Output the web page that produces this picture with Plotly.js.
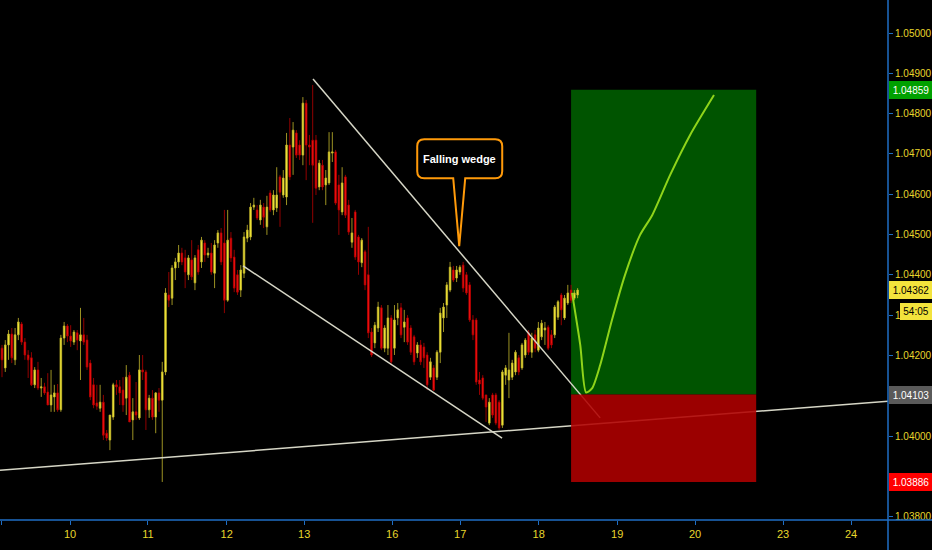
<!DOCTYPE html>
<html><head><meta charset="utf-8">
<script src="https://cdn.plot.ly/plotly-3.0.1.min.js"></script>
<style>html,body{margin:0;padding:0;background:#000;}#chart{width:932px;height:550px;}</style>
</head><body><div id="chart"></div>
<script>
// Hourly candles (EURUSD-style)
const candleOpen = [
1.04218,1.04169,1.04226,1.04253,1.04189,1.04251,1.04278,1.04233,1.04201,1.04194,
1.04127,1.04164,1.04119,1.04122,1.04109,1.04077,1.04097,1.04107,1.04065,1.04243,
1.04273,1.04248,1.04233,1.04256,1.04236,1.04251,1.04238,1.04181,1.04127,1.04082,
1.04069,1.04084,1.04007,1.03990,1.04047,1.04127,1.04122,1.04114,1.04094,1.04151,
1.04040,1.04060,1.04045,1.04164,1.04159,1.04065,1.04094,1.04047,1.04107,1.04089,
1.04159,1.04350,1.04342,1.04417,1.04432,1.04454,1.04442,1.04400,1.04437,1.04380,
1.04462,1.04432,1.04479,1.04449,1.04454,1.04404,1.04479,1.04504,1.04479,1.04337,
1.04491,1.04444,1.04400,1.04362,1.04404,1.04491,1.04494,1.04568,1.04561,1.04536,
1.04568,1.04519,1.04603,1.04561,1.04566,1.04643,1.04598,1.04593,1.04722,1.04717,
1.04752,1.04722,1.04697,1.04826,1.04722,1.04734,1.04734,1.04618,1.04672,1.04623,
1.04628,1.04702,1.04705,1.04623,1.04556,1.04643,1.04573,1.04481,1.04556,1.04494,
1.04430,1.04457,1.04400,1.04258,1.04231,1.04268,1.04318,1.04218,1.04218,1.04293,
1.04218,1.04293,1.04318,1.04270,1.04293,1.04268,1.04246,1.04206,1.04226,1.04221,
1.04201,1.04146,1.04169,1.04146,1.04208,1.04293,1.04325,1.04362,1.04412,1.04392,
1.04407,1.04424,1.04400,1.04375,1.04288,1.04288,1.04139,1.04144,1.04102,1.04032,
1.04102,1.04102,1.04084,1.04027,1.04151,1.04139,1.04146,1.04159,1.04194,1.04169,
1.04201,1.04256,1.04208,1.04251,1.04213,1.04246,1.04263,1.04270,1.04251,1.04251,
1.04295,1.04350,1.04293,1.04330,1.04362,1.04342,1.04350];
const candleHigh = [
1.04226,1.04238,1.04263,1.04268,1.04268,1.04293,1.04283,1.04243,1.04213,1.04208,
1.04171,1.04184,1.04144,1.04132,1.04156,1.04164,1.04127,1.04129,1.04251,1.04283,
1.04278,1.04275,1.04263,1.04263,1.04318,1.04293,1.04251,1.04189,1.04144,1.04127,
1.04127,1.04102,1.04015,1.04052,1.04132,1.04139,1.04139,1.04146,1.04176,1.04159,
1.04094,1.04134,1.04201,1.04201,1.04164,1.04102,1.04114,1.04109,1.04119,1.04184,
1.04367,1.04407,1.04424,1.04442,1.04474,1.04467,1.04462,1.04449,1.04486,1.04449,
1.04474,1.04494,1.04486,1.04467,1.04479,1.04486,1.04511,1.04516,1.04561,1.04561,
1.04506,1.04462,1.04412,1.04424,1.04506,1.04524,1.04578,1.04591,1.04573,1.04586,
1.04578,1.04596,1.04610,1.04610,1.04667,1.04648,1.04660,1.04752,1.04789,1.04779,
1.04759,1.04734,1.04841,1.04834,1.04747,1.04871,1.04747,1.04685,1.04685,1.04660,
1.04754,1.04754,1.04710,1.04648,1.04667,1.04648,1.04586,1.04541,1.04561,1.04499,
1.04491,1.04462,1.04519,1.04268,1.04283,1.04333,1.04325,1.04275,1.04325,1.04300,
1.04325,1.04330,1.04330,1.04313,1.04300,1.04275,1.04251,1.04233,1.04238,1.04231,
1.04208,1.04194,1.04176,1.04213,1.04318,1.04330,1.04382,1.04432,1.04422,1.04422,
1.04424,1.04432,1.04407,1.04382,1.04300,1.04293,1.04159,1.04151,1.04102,1.04094,
1.04107,1.04107,1.04089,1.04164,1.04176,1.04256,1.04189,1.04213,1.04201,1.04231,
1.04243,1.04263,1.04256,1.04263,1.04283,1.04288,1.04283,1.04275,1.04263,1.04325,
1.04337,1.04355,1.04350,1.04375,1.04375,1.04362,1.04367];
const candleLow = [
1.04146,1.04159,1.04189,1.04181,1.04176,1.04238,1.04226,1.04189,1.04144,1.04124,
1.04119,1.04114,1.04097,1.04102,1.04077,1.04060,1.04060,1.04060,1.04060,1.04226,
1.04233,1.04221,1.04226,1.04213,1.04139,1.04226,1.04164,1.04089,1.04069,1.04065,
1.04060,1.03990,1.03988,1.03965,1.04040,1.04102,1.04077,1.04060,1.04052,1.04035,
1.03990,1.04040,1.04040,1.04139,1.04015,1.04045,1.04040,1.04007,1.04060,1.03886,
1.04151,1.04320,1.04325,1.04387,1.04417,1.04424,1.04367,1.04387,1.04387,1.04362,
1.04400,1.04417,1.04432,1.04442,1.04400,1.04367,1.04467,1.04424,1.04305,1.04333,
1.04432,1.04357,1.04350,1.04345,1.04392,1.04481,1.04486,1.04561,1.04536,1.04524,
1.04516,1.04499,1.04556,1.04548,1.04556,1.04519,1.04591,1.04573,1.04635,1.04648,
1.04690,1.04685,1.04672,1.04635,1.04672,1.04529,1.04598,1.04610,1.04610,1.04573,
1.04623,1.04680,1.04573,1.04499,1.04548,1.04541,1.04499,1.04467,1.04437,1.04400,
1.04419,1.04362,1.04243,1.04196,1.04218,1.04258,1.04213,1.04208,1.04201,1.04176,
1.04201,1.04275,1.04243,1.04233,1.04226,1.04201,1.04176,1.04194,1.04176,1.04169,
1.04114,1.04139,1.04112,1.04139,1.04181,1.04258,1.04293,1.04357,1.04382,1.04382,
1.04400,1.04357,1.04350,1.04283,1.04238,1.04127,1.04102,1.04089,1.04035,1.04027,
1.04045,1.04027,1.04015,1.04020,1.04127,1.04094,1.04139,1.04151,1.04151,1.04164,
1.04194,1.04201,1.04194,1.04208,1.04208,1.04238,1.04226,1.04213,1.04218,1.04243,
1.04288,1.04275,1.04288,1.04325,1.04330,1.04337,1.04342];
const candleClose = [
1.04189,1.04226,1.04253,1.04194,1.04251,1.04283,1.04233,1.04201,1.04189,1.04127,
1.04164,1.04119,1.04122,1.04107,1.04077,1.04102,1.04107,1.04065,1.04243,1.04273,
1.04248,1.04236,1.04258,1.04238,1.04251,1.04233,1.04171,1.04097,1.04077,1.04074,
1.04084,1.04002,1.03995,1.04052,1.04127,1.04122,1.04107,1.04077,1.04146,1.04035,
1.04060,1.04052,1.04164,1.04159,1.04065,1.04094,1.04047,1.04107,1.04089,1.04159,
1.04355,1.04337,1.04417,1.04432,1.04454,1.04432,1.04407,1.04442,1.04395,1.04442,
1.04407,1.04486,1.04449,1.04454,1.04407,1.04474,1.04504,1.04432,1.04337,1.04486,
1.04442,1.04367,1.04357,1.04412,1.04494,1.04511,1.04568,1.04573,1.04541,1.04573,
1.04543,1.04568,1.04561,1.04598,1.04598,1.04605,1.04640,1.04722,1.04643,1.04759,
1.04697,1.04697,1.04826,1.04722,1.04717,1.04672,1.04615,1.04677,1.04618,1.04640,
1.04705,1.04705,1.04578,1.04561,1.04628,1.04548,1.04506,1.04504,1.04444,1.04432,
1.04486,1.04375,1.04256,1.04201,1.04275,1.04320,1.04218,1.04268,1.04293,1.04184,
1.04288,1.04313,1.04251,1.04283,1.04233,1.04208,1.04184,1.04226,1.04184,1.04194,
1.04127,1.04184,1.04114,1.04208,1.04305,1.04320,1.04375,1.04419,1.04387,1.04412,
1.04419,1.04367,1.04355,1.04288,1.04251,1.04134,1.04129,1.04094,1.04072,1.04084,
1.04052,1.04032,1.04020,1.04159,1.04169,1.04164,1.04181,1.04208,1.04159,1.04226,
1.04238,1.04208,1.04243,1.04218,1.04268,1.04280,1.04268,1.04218,1.04226,1.04320,
1.04333,1.04313,1.04342,1.04355,1.04337,1.04355,1.04362];

// axis labels
const dayTickPos  = [-0.06, 20.8, 44.6, 68.7, 92.4, 119.3, 140.1, 164.1, 188.1, 211.9, 238.8, 259.6];
const dayTickText = ['9','10','11','12','13','16','17','18','19','20','23','24'];
const priceTicks  = [1.038,1.039,1.040,1.041,1.042,1.043,1.044,1.045,1.046,1.047,1.048,1.049,1.050];
// labels that the price tags cover in the picture (1.04300 shows only "1.")
const priceTickText = ['1.03800','','1.04000','','1.04200','1.','1.04400','1.04500','1.04600','1.04700','1.04800','1.04900','1.05000'];

// trade levels
const targetPrice = 1.04859;
const entryPrice  = 1.04103;
const stopPrice   = 1.03886;
const lastPrice   = 1.04362;
const countdownText = '54:05';
const tradeStartX = 174.0, tradeEndX = 230.6;

// projected path (drawn by the analyst)
const projX = [174.3, 176.8, 178.6, 180.4, 182.9, 186.5, 190.5, 195.1, 198.8, 204.3, 210.4, 217.7];
const projY = [1.04355, 1.04226, 1.04108, 1.04118, 1.04176, 1.04288, 1.04400, 1.04499, 1.04548, 1.04648, 1.04747, 1.04846];

// trend lines [x0, y0, x1, y1]
const supportLine = [-0.61, 1.039149, 270.9, 1.040864];
const wedgeLower  = [73.7, 1.04422, 152.9, 1.03995];
const wedgeUpper  = [95.1, 1.04886, 182.9, 1.04045];
const calloutTip  = [139.8, 1.04471];
const calloutText = 'Falling wedge';

const FONT = '"Liberation Sans", Arial, sans-serif';
const YEL = '#e8d62c';
const BLUE = '#1f6ec4';
const LINEC = '#d6d6c6';

const xIdx = candleOpen.map((_, i) => i);

const traces = [
  {
    type: 'candlestick', x: xIdx,
    open: candleOpen, high: candleHigh, low: candleLow, close: candleClose,
    increasing: {line: {color: '#c4b82c', width: 0.8}, fillcolor: '#fff23a'},
    decreasing: {line: {color: '#b80000', width: 0.8}, fillcolor: '#ff1414'},
    whiskerwidth: 0, hoverinfo: 'skip', showlegend: false
  },
  {
    type: 'scatter', mode: 'lines', x: projX, y: projY,
    line: {color: '#8fd41a', width: 2, shape: 'spline', smoothing: 0.7},
    hoverinfo: 'skip', showlegend: false
  }
];

function seg(a, color) {
  return {type: 'line', xref: 'x', yref: 'y', x0: a[0], y0: a[1], x1: a[2], y1: a[3],
          line: {color: color, width: 1.5}, layer: 'above'};
}

const calloutPath = 'M -35 107 L 36 107 Q 43 107 43 100 L 43 75 Q 43 68 36 68 L 6 68 L 0 0 L -6 68 L -35 68 Q -42 68 -42 75 L -42 100 Q -42 107 -35 107 Z';

const shapes = [
  {type: 'rect', xref: 'x', yref: 'y', x0: tradeStartX, x1: tradeEndX, y0: entryPrice, y1: targetPrice,
   fillcolor: '#005400', line: {width: 0}, layer: 'below'},
  seg(supportLine, LINEC),
  seg(wedgeLower, LINEC),
  seg(wedgeUpper, LINEC),
  {type: 'rect', xref: 'x', yref: 'y', x0: tradeStartX, x1: tradeEndX, y0: stopPrice, y1: entryPrice,
   fillcolor: '#b00000', opacity: 0.88, line: {width: 0}, layer: 'above'},
  {type: 'path', xref: 'x', yref: 'y', xsizemode: 'pixel', ysizemode: 'pixel',
   xanchor: calloutTip[0], yanchor: calloutTip[1], path: calloutPath,
   fillcolor: '#000', line: {color: '#ff9a0a', width: 2}, layer: 'above'},
  // axis lines extended to the window edges
  {type: 'line', xref: 'paper', yref: 'paper', x0: 0, x1: 1.06, y0: 0, y1: 0, line: {color: BLUE, width: 1.5}},
  {type: 'line', xref: 'paper', yref: 'paper', x0: 1, x1: 1, y0: -0.07, y1: 1, line: {color: BLUE, width: 1.5}}
];

function priceTag(price, bg, fg) {
  return {xref: 'paper', x: 1, xanchor: 'left', xshift: 1, yref: 'y', y: price, yanchor: 'middle',
          text: price.toFixed(5), showarrow: false, bgcolor: bg, borderpad: 2, borderwidth: 0,
          width: 40, height: 14, align: 'center', font: {family: FONT, size: 10, color: fg}};
}

const annotations = [
  priceTag(targetPrice, '#00a000', '#ffffff'),
  priceTag(lastPrice, '#f3e33c', '#000000'),
  priceTag(entryPrice, '#5a5a5a', '#ffffff'),
  priceTag(stopPrice, '#ff0000', '#ffffff'),
  {xref: 'paper', x: 1, xanchor: 'left', xshift: 12, yref: 'y', y: lastPrice, yshift: -21, yanchor: 'middle',
   text: countdownText, showarrow: false, bgcolor: '#f3e33c', borderpad: 2, borderwidth: 0,
   width: 28, height: 13, align: 'center', font: {family: FONT, size: 10, color: '#000'}},
  {xref: 'x', yref: 'y', x: calloutTip[0], y: calloutTip[1], yshift: 87.5, xshift: 0.5,
   text: '<b>' + calloutText + '</b>', showarrow: false,
   font: {family: FONT, size: 11, color: '#ffffff'}}
];

const layout = {
  width: 932, height: 550,
  margin: {l: 0, r: 44, t: 0, b: 30, pad: 0},
  paper_bgcolor: '#000', plot_bgcolor: '#000',
  font: {family: FONT, size: 10, color: YEL},
  showlegend: false,
  xaxis: {
    range: [-0.61, 270.9], showgrid: false, zeroline: false,
    tickmode: 'array', tickvals: dayTickPos, ticktext: dayTickText,
    ticks: 'outside', ticklen: 4, tickcolor: BLUE, tickwidth: 1,
    tickfont: {family: FONT, size: 11, color: YEL},
    showline: false, rangeslider: {visible: false}, fixedrange: true
  },
  yaxis: {
    side: 'right', range: [1.037916, 1.050819], showgrid: false, zeroline: false,
    tickmode: 'array', tickvals: priceTicks, ticktext: priceTickText,
    ticks: 'outside', ticklen: 4, tickcolor: BLUE, tickwidth: 1,
    tickfont: {family: FONT, size: 10, color: YEL},
    showline: false, fixedrange: true
  },
  shapes: shapes,
  annotations: annotations,
  hovermode: false
};

Plotly.newPlot('chart', traces, layout, {displayModeBar: false, staticPlot: true});
</script>
</body></html>
